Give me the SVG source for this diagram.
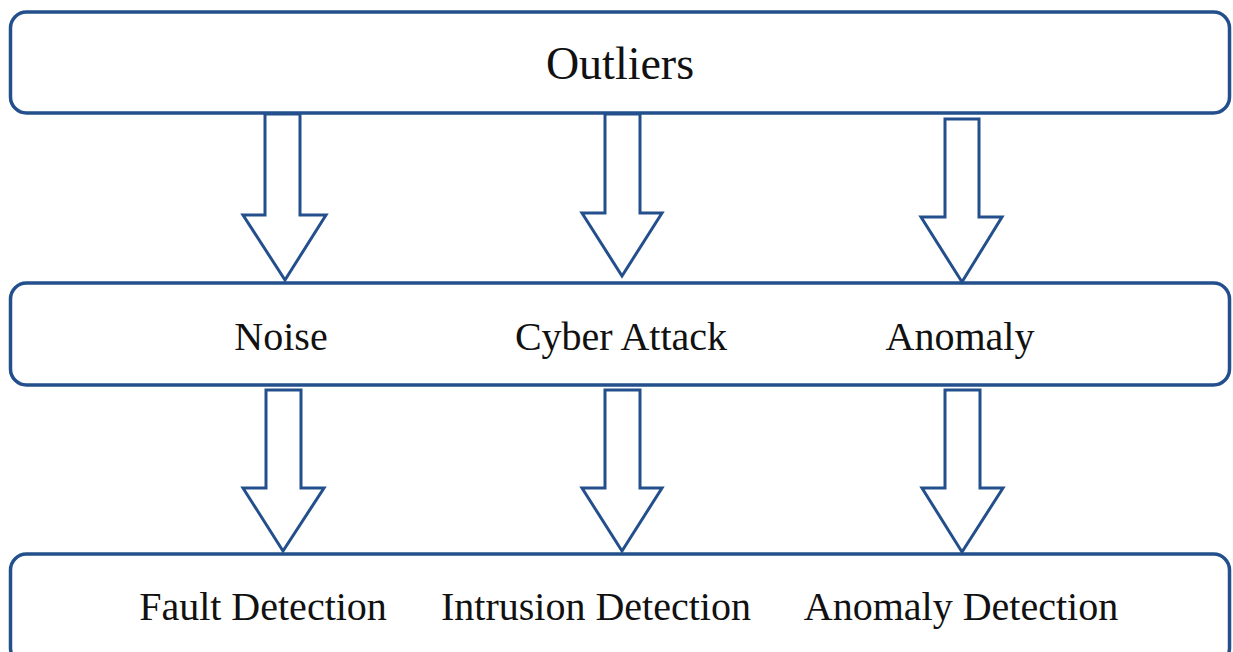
<svg xmlns="http://www.w3.org/2000/svg" width="1233" height="652" viewBox="0 0 1233 652">
<style>
.box{fill:#fff;stroke:#23508c;stroke-width:3.5}
.arr{fill:#fff;stroke:#23508c;stroke-width:3;stroke-linejoin:miter}
.t{font-family:"Liberation Serif","Times New Roman",serif;font-size:40px;fill:#111;text-anchor:middle}
</style>
<rect width="1233" height="652" fill="#fff"/>
<g id="outliers">
<rect class="box" x="10.5" y="12" width="1219" height="101" rx="16"/>
<text class="t" x="620" y="79" style="font-size:46px">Outliers</text>
</g>
<g id="middle">
<rect class="box" x="10.5" y="283" width="1219" height="102" rx="16"/>
<text class="t" x="281" y="350">Noise</text>
<text class="t" x="621" y="350">Cyber Attack</text>
<text class="t" x="960" y="350">Anomaly</text>
</g>
<g id="bottom">
<rect class="box" x="10.5" y="554" width="1219" height="110" rx="16"/>
<text class="t" x="263" y="620">Fault Detection</text>
<text class="t" x="596" y="620">Intrusion Detection</text>
<text class="t" x="961" y="620">Anomaly Detection</text>
</g>
<g id="connectors">
<polygon class="arr" points="265,114 300,114 300,215 326,215 285,280 243,215 265,215"/>
<polygon class="arr" points="605,114 640,114 640,213 662,213 622,276 582,213 605,213"/>
<polygon class="arr" points="945,119 979,119 979,217 1002,217 962,282 921,217 945,217"/>
<polygon class="arr" points="266,390 301,390 301,488 324,488 283,551 243,488 266,488"/>
<polygon class="arr" points="605,390 640,390 640,488 662,488 622,551 582,488 605,488"/>
<polygon class="arr" points="945,390 980,390 980,488 1003,488 962,552 922,488 945,488"/>
</g>
</svg>
